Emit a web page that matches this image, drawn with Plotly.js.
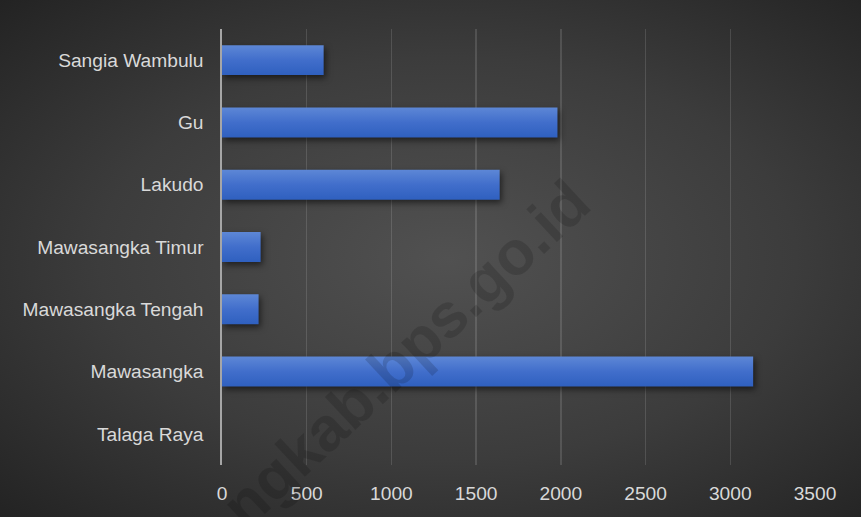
<!DOCTYPE html>
<html>
<head>
<meta charset="utf-8">
<script src="https://cdn.plot.ly/plotly-3.0.1.min.js"></script>
<style>
  html, body { margin: 0; padding: 0; }
  #chart {
    width: 861px; height: 517px;
    background: radial-gradient(ellipse farthest-corner at 52% 50%, #515151 0%, #3c3c3c 55%, #232323 100%);
  }
  #chart .bars .point path { filter: drop-shadow(2px 3px 3px rgba(0,0,0,0.55)); }
</style>
</head>
<body>
<div id="chart"></div>
<script>
// Categories bottom-to-top as drawn by Plotly
const categories = ['Talaga Raya', 'Mawasangka', 'Mawasangka Tengah', 'Mawasangka Timur', 'Lakudo', 'Gu', 'Sangia Wambulu'];
const values = [0, 3135, 216, 228, 1639, 1980, 600];
const xTicks = [0, 500, 1000, 1500, 2000, 2500, 3000, 3500];
const watermark = 'ngkab.bps.go.id';

const trace = {
  type: 'bar',
  orientation: 'h',
  y: categories,
  x: values,
  marker: { color: '#4472c4', line: { width: 0 } },
  hoverinfo: 'x+y'
};

const tickFont = { family: 'Liberation Sans, Arial, sans-serif', size: 19.2, color: '#d9d9d9' };

const layout = {
  width: 861, height: 517,
  margin: { l: 222, r: 46, t: 29, b: 52, pad: 0 },
  paper_bgcolor: 'rgba(0,0,0,0)',
  plot_bgcolor: 'rgba(0,0,0,0)',
  bargap: 0.52,
  showlegend: false,
  xaxis: {
    range: [0, 3500],
    tickvals: xTicks,
    ticktext: xTicks.map(String),
    showgrid: true,
    gridcolor: 'rgba(255,255,255,0.13)',
    gridwidth: 1.3,
    zeroline: false,
    showline: false,
    ticks: '',
    ticklabelstandoff: 15,
    tickfont: tickFont,
    fixedrange: true
  },
  yaxis: {
    type: 'category',
    categoryorder: 'array',
    categoryarray: categories,
    showgrid: false,
    zeroline: false,
    showline: true,
    linecolor: '#a6a6a6',
    linewidth: 1.6,
    ticks: '',
    ticklabelstandoff: 13,
    tickfont: tickFont,
    fixedrange: true
  },
  annotations: [{
    text: '<b>' + watermark + '</b>',
    xref: 'paper', yref: 'paper',
    x: 0.31, y: 0.255,
    xanchor: 'center', yanchor: 'middle',
    textangle: -43,
    showarrow: false,
    font: { family: 'Liberation Sans, Arial, sans-serif', size: 62, color: 'rgba(0,0,0,0.15)' }
  }]
};

Plotly.newPlot('chart', [trace], layout, { displayModeBar: false, staticPlot: true }).then(function (gd) {
  const svg = gd.querySelector('svg.main-svg');
  const ns = 'http://www.w3.org/2000/svg';
  let defs = svg.querySelector('defs');
  if (!defs) { defs = document.createElementNS(ns, 'defs'); svg.insertBefore(defs, svg.firstChild); }
  const grad = document.createElementNS(ns, 'linearGradient');
  grad.setAttribute('id', 'barGrad');
  grad.setAttribute('x1', '0'); grad.setAttribute('y1', '0');
  grad.setAttribute('x2', '0'); grad.setAttribute('y2', '1');
  [['0%', '#5d87d6'], ['50%', '#416ecb'], ['100%', '#2f60bf']].forEach(function (s) {
    const st = document.createElementNS(ns, 'stop');
    st.setAttribute('offset', s[0]);
    st.setAttribute('stop-color', s[1]);
    grad.appendChild(st);
  });
  defs.appendChild(grad);
  gd.querySelectorAll('.bars .point path').forEach(function (p) {
    p.style.fill = 'url(#barGrad)';
  });
});
</script>
</body>
</html>
